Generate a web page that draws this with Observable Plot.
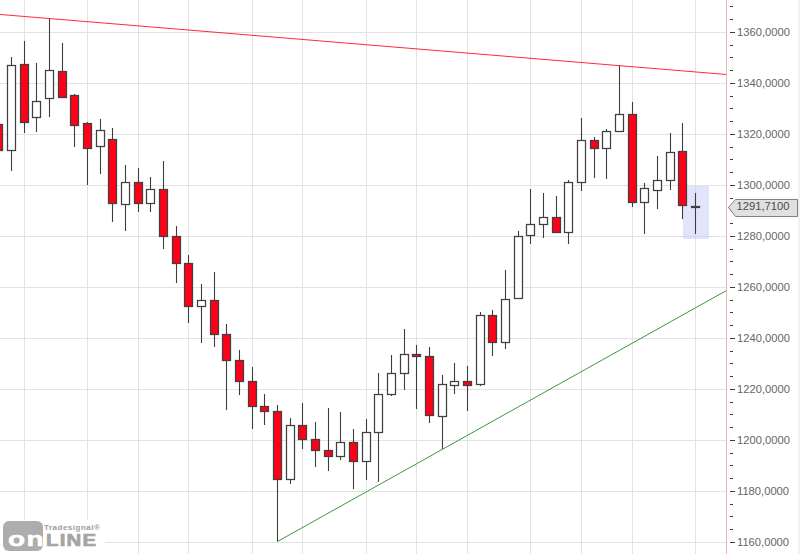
<!DOCTYPE html>
<html>
<head>
<meta charset="utf-8">
<script src="https://cdn.jsdelivr.net/npm/d3@7"></script>
<script src="https://cdn.jsdelivr.net/npm/@observablehq/plot@0.6"></script>
<style>
  html, body { margin: 0; padding: 0; background: #fff; overflow: hidden; }
  #wrap { position: relative; width: 800px; height: 554px; overflow: hidden; }
  #wrap svg { display: block; }
  .logo { position: absolute; left: 0; top: 520px; width: 105px; height: 34px; background: #fff; font-family: "Liberation Sans", sans-serif; font-weight: 700; }
  .logo .block { position: absolute; left: 3px; top: 1px; width: 40px; height: 30px; background: #adadad; border-radius: 6px; }
  .logo span { position: absolute; white-space: nowrap; transform-origin: left top; }
  .logo .on { left: 8px; top: 9px; font-size: 20px; line-height: 20px; color: #fff; transform: scaleX(1.4); letter-spacing: 1px; -webkit-text-stroke: .5px #fff; }
  .logo .line { left: 46px; top: 12px; font-size: 17px; line-height: 17px; color: #a4a4a4; transform: scaleX(1.2); letter-spacing: 1px; -webkit-text-stroke: .7px #a4a4a4; }
  .logo .brand { left: 44px; top: 3px; font-size: 8px; line-height: 9px; color: #9c9c9c; letter-spacing: .5px; }
  .edge { position: absolute; right: 0; top: 0; width: 2px; height: 554px; background: #f0f0f0; }
</style>
</head>
<body>
<div id="wrap">
  <div class="edge"></div>
</div>
<script>
const opens  = [1323.9,1313.6,1347.5,1326.5,1334.0,1344.7,1335.3,1324.3,1315.1,1318.0,1292.5,1301.2,1292.9,1298.4,1280.0,1269.4,1252.5,1254.9,1241.6,1231.4,1223.1,1213.3,1211.4,1184.7,1205.9,1200.4,1196.1,1193.7,1199.2,1191.8,1203.1,1218.0,1226.3,1233.7,1232.9,1209.4,1221.6,1223.1,1222.0,1249.0,1238.4,1255.7,1280.4,1284.7,1287.5,1281.6,1301.2,1317.6,1314.5,1321.2,1327.8,1293.3,1298.0,1302.0,1313.3,1291.3];
const highs  = [1323.9,1350.3,1356.6,1348.0,1365.2,1355.8,1335.7,1324.8,1326.0,1322.5,1308.0,1306.8,1303.3,1309.5,1284.0,1272.5,1261.2,1265.9,1245.5,1235.3,1228.6,1218.0,1213.7,1208.6,1214.5,1207.1,1212.5,1211.0,1204.3,1208.2,1226.4,1233.5,1243.6,1237.4,1236.5,1225.5,1230.3,1229.0,1250.2,1251.0,1266.7,1282.0,1298.5,1297.0,1295.7,1302.1,1326.3,1318.8,1322.0,1346.9,1332.5,1300.8,1311.5,1320.4,1324.4,1296.9];
const lows   = [1313.6,1305.6,1320.5,1320.9,1326.8,1334.7,1315.0,1300.1,1304.4,1285.3,1281.8,1289.3,1289.6,1275.0,1261.4,1245.7,1237.9,1236.3,1211.6,1217.5,1204.5,1205.7,1160.4,1182.6,1196.3,1189.6,1187.7,1192.0,1180.6,1184.5,1183.4,1217.1,1219.8,1212.0,1206.5,1196.3,1217.9,1211.2,1221.0,1232.8,1235.5,1255.7,1276.7,1279.1,1281.0,1276.7,1297.5,1302.6,1302.2,1320.6,1291.2,1280.6,1290.4,1298.0,1286.5,1280.6];
const closes = [1313.6,1347.1,1324.9,1332.9,1345.1,1334.7,1323.4,1314.7,1321.6,1292.9,1301.2,1292.9,1298.4,1280.0,1269.4,1252.5,1254.9,1241.6,1231.4,1223.1,1213.3,1211.4,1184.7,1205.9,1200.4,1196.1,1193.7,1199.2,1191.8,1203.1,1218.0,1226.3,1233.7,1232.9,1209.8,1222.0,1223.1,1221.6,1249.0,1238.4,1255.3,1280.0,1284.7,1287.5,1281.6,1301.2,1317.6,1314.5,1321.2,1327.8,1293.3,1298.8,1302.0,1312.9,1292.2,1291.71];

const priceTicks = [1160,1180,1200,1220,1240,1260,1280,1300,1320,1340,1360];
const minorTicks = [1165,1170,1175,1185,1190,1195,1205,1210,1215,1225,1230,1235,1245,1250,1255,1265,1270,1275,1285,1290,1295,1305,1310,1315,1325,1330,1335,1345,1350,1355,1365,1370];
const timeGrid = [2,7,11,15,20,24,29,33,37,42,46,50,55];

const redTrendX = [0.132, 57.45];
const redTrendY = [1367.2, 1343.5];
const greenTrendX = [22, 57.45];
const greenTrendY = [1160.4, 1258.7];

const highlightX = [54.05, 56.1];
const highlightY = [1279.0, 1299.5];

const lastPrice = 1291.71;
const tagX = [57.63, 58.16, 63.07, 63.07, 58.16, 57.63];
const tagY = [1291.2, 1294.4, 1294.4, 1288.0, 1288.0, 1291.2];

const candles = opens.map((o, i) => ({i, o, h: highs[i], l: lows[i], c: closes[i], up: closes[i] >= o}));
const fmt = v => v.toFixed(4).replace(".", ",");

const chart = Plot.plot({
  width: 800, height: 554,
  marginLeft: 0, marginRight: 74, marginTop: 0, marginBottom: 0,
  style: {background: "transparent", overflow: "hidden"},
  x: {domain: [0.132, 57.447], axis: null, round: true},
  y: {domain: [1155.294, 1372.549], axis: null, round: true},
  marks: [
    Plot.ruleY(priceTicks, {stroke: "#e2e2e2", strokeWidth: 1}),
    Plot.ruleX(timeGrid, {stroke: "#e2e2e2", strokeWidth: 1}),
    Plot.rect([0], {x1: () => highlightX[0], x2: () => highlightX[1], y1: () => highlightY[0], y2: () => highlightY[1], fill: "#c6caf8", fillOpacity: 0.5}),
    Plot.ruleX(candles, {x: "i", y1: "l", y2: "h", stroke: "#3d3d3d", strokeWidth: 1.1}),
    Plot.rect(candles, {
      x1: "i", x2: "i", y1: "o", y2: "c",
      insetLeft: -4, insetRight: -4, dx: 0.5, dy: 0.5,
      fill: d => d.up ? "#ffffff" : "#ff0019",
      stroke: "#404040", strokeWidth: 1.25
    }),
    Plot.line(redTrendX, {x: d => d, y: (d, i) => redTrendY[i], stroke: "#ff2a3c", strokeWidth: 1}),
    Plot.line(greenTrendX, {x: d => d, y: (d, i) => greenTrendY[i], stroke: "#3f963f", strokeWidth: 1}),
    Plot.ruleX([57.447], {stroke: "#e8b6b6", strokeWidth: 1}),
    Plot.axisY({anchor: "right", ticks: minorTicks, tickSize: 3, dx: 3, label: null, tickFormat: () => "", stroke: "#3a3a3a", strokeOpacity: 1}),
    Plot.axisY({anchor: "right", ticks: priceTicks, tickSize: 5, dx: 3, tickPadding: 2.5, label: null, tickFormat: fmt, stroke: "#3a3a3a", strokeOpacity: 1, fill: "#666666", fontSize: 11.2, fontFamily: "Liberation Sans"}),
    Plot.line(tagX, {x: d => d, y: (d, i) => tagY[i], z: null, stroke: "#808080", fill: "#e0e0e0", strokeWidth: 1}),
    Plot.text([lastPrice], {x: () => 58.25, y: d => d, text: fmt, textAnchor: "start", fill: "#4a4a4a", fontSize: 11.2, fontFamily: "Liberation Sans"})
  ]
});
const wrap = document.getElementById("wrap");
wrap.insertBefore(chart, wrap.firstChild);

const logo = document.createElement("div");
logo.className = "logo";
logo.innerHTML = '<div class="block"></div><span class="on">on</span><span class="line">LINE</span><span class="brand">Tradesignal®</span>';
wrap.appendChild(logo);
</script>
</body>
</html>
